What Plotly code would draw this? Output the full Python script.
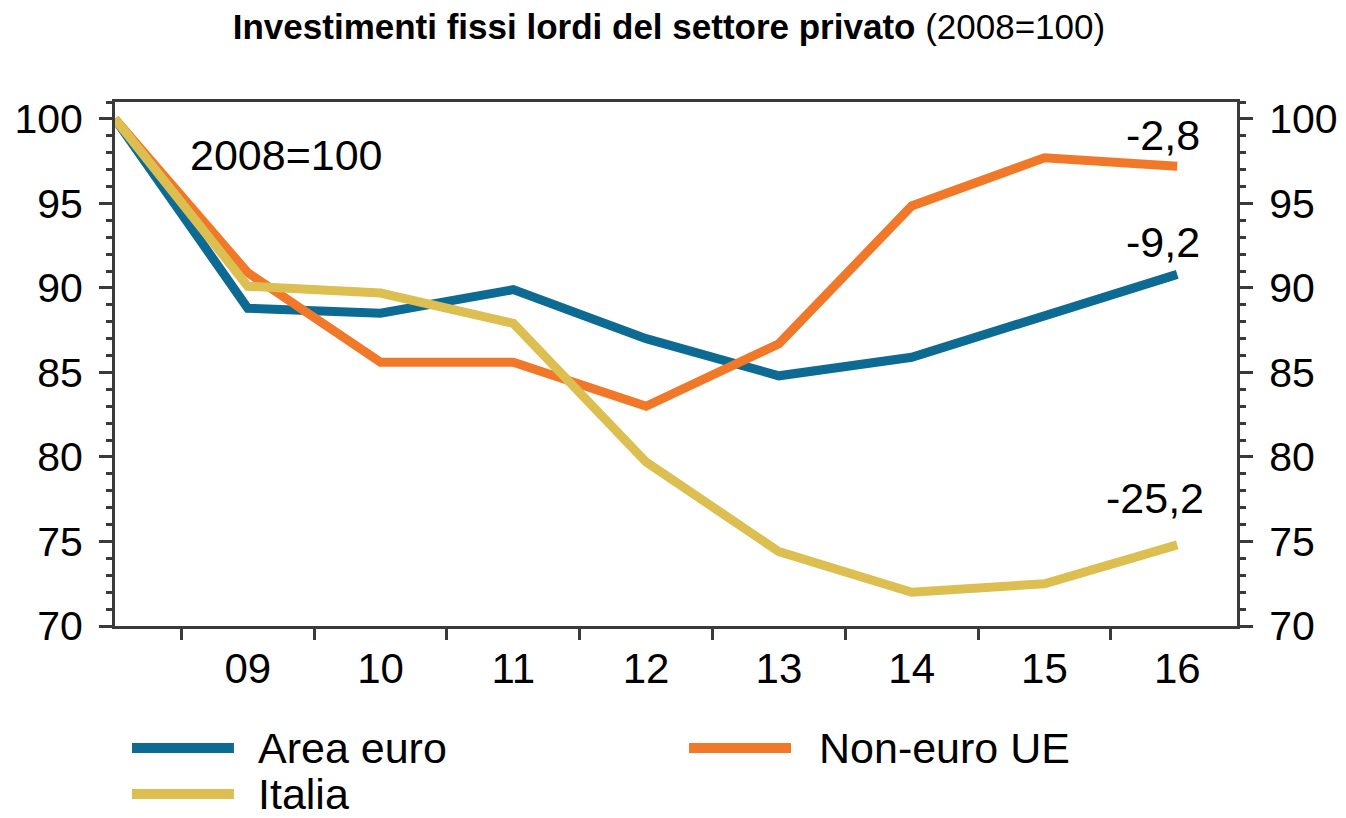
import plotly.graph_objects as go

years = [2008, 2009, 2010, 2011, 2012, 2013, 2014, 2015, 2016]
tick_labels = ["09", "10", "11", "12", "13", "14", "15", "16"]
area_euro = [100.0, 88.8, 88.5, 89.9, 87.0, 84.8, 85.9, 88.3, 90.8]
non_euro_ue = [100.0, 90.9, 85.6, 85.6, 83.0, 86.7, 94.85, 97.7, 97.2]
italia = [100.0, 90.1, 89.7, 87.9, 79.7, 74.4, 72.0, 72.5, 74.8]
series_names = ["Area euro", "Non-euro UE", "Italia"]
colors = ["#0C6A93", "#F07828", "#DCBF50"]

FONT = "Liberation Sans, Arial, sans-serif"
AX = "#3a3a3a"

fig = go.Figure()
for name, vals, col in zip(series_names, [area_euro, non_euro_ue, italia], colors):
    fig.add_trace(go.Scatter(x=years, y=vals, mode="lines", name=name,
                             line=dict(color=col, width=9), showlegend=False))
# trace to activate the right axis
fig.add_trace(go.Scatter(x=[years[0]], y=[None], yaxis="y2", showlegend=False,
                         hoverinfo="skip", mode="lines"))

# end labels (change vs 2008)
def fmt(v):
    return ("%.1f" % (v - 100)).replace(".", ",")

end_label_pos = [(2015.89, 92.72), (2015.89, 99.05), (2015.83, 77.57)]
for vals, (lx, ly) in zip([area_euro, non_euro_ue, italia], end_label_pos):
    fig.add_annotation(x=lx, y=ly, text=fmt(vals[-1]), showarrow=False,
                       font=dict(family=FONT, size=43, color="black"),
                       xanchor="center", yanchor="middle")

fig.add_annotation(x=2008.55, y=97.87, text="2008=100", showarrow=False,
                   font=dict(family=FONT, size=43, color="black"),
                   xanchor="left", yanchor="middle")

# manual legend
leg = [(0.01515, 0.106, 0.1257, -0.2328, 0),
       (0.5116, 0.6025, 0.6257, -0.2328, 1),
       (0.01515, 0.106, 0.1257, -0.3206, 2)]
for x0, x1, xt, yy, i in leg:
    fig.add_shape(type="line", xref="paper", yref="paper", x0=x0, x1=x1, y0=yy, y1=yy,
                  line=dict(color=colors[i], width=10))
    fig.add_annotation(xref="paper", yref="paper", x=xt, y=yy, text=series_names[i],
                       showarrow=False, xanchor="left", yanchor="middle",
                       font=dict(family=FONT, size=43, color="black"))

yaxis_common = dict(range=[70, 101], tickvals=[70, 75, 80, 85, 90, 95, 100],
                    ticks="outside", ticklen=13, tickwidth=3, tickcolor=AX,
                    showline=True, linewidth=3, linecolor=AX, showgrid=False,
                    zeroline=False, tickfont=dict(family=FONT, size=41, color="black"),
                    minor=dict(dtick=1, tick0=70, ticks="outside", ticklen=6,
                               tickwidth=3, tickcolor=AX, showgrid=False),
                    ticklabelstandoff=8, fixedrange=True, automargin=False)

fig.update_layout(
    width=1346, height=818,
    margin=dict(l=115, r=109, t=102, b=192, autoexpand=False),
    paper_bgcolor="white", plot_bgcolor="white",
    title=dict(text="<b>Investimenti fissi lordi del settore privato</b> (2008=100)",
               x=0.497, xref="container", xanchor="center",
               y=1 - 27 / 818, yref="container", yanchor="middle",
               automargin=False,
               font=dict(family=FONT, size=35, color="black")),
    xaxis=dict(range=[2008, 2016.45], tickvals=years[1:], ticktext=tick_labels,
               ticks="", showline=True, linewidth=3, linecolor=AX, mirror=True,
               showgrid=False, zeroline=False,
               tickfont=dict(family=FONT, size=42, color="black"),
               minor=dict(tick0=2008.5, dtick=1, ticks="outside", ticklen=11,
                          tickwidth=3, tickcolor=AX, showgrid=False),
               ticklabelstandoff=4, fixedrange=True, automargin=False),
    yaxis=dict(side="left", **yaxis_common),
    yaxis2=dict(side="right", overlaying="y", **yaxis_common),
    showlegend=False,
)

fig.write_html("out.html", config={"displayModeBar": False},
               post_script="document.body.style.margin='0';document.body.style.overflow='hidden';")
